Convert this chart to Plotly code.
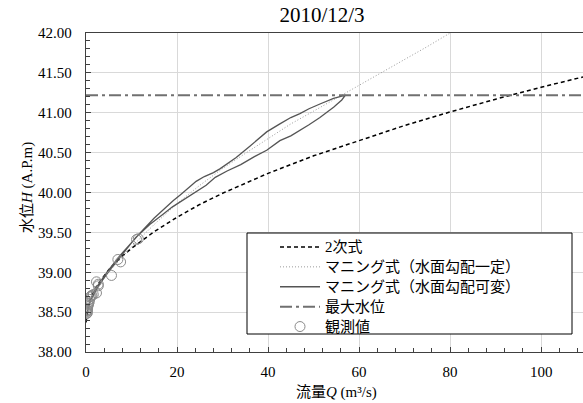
import plotly.graph_objects as go

# 2次式 (quadratic rating curve)
quad_Q = [0, 0.5, 1, 2, 3, 5, 7.5, 10, 15, 20, 25, 30, 40, 50, 60, 70, 80, 90, 100, 110]
quad_H = [38.37, 38.58, 38.67, 38.79, 38.88, 39.03, 39.18, 39.30, 39.51, 39.69, 39.85, 39.99,
          40.24, 40.46, 40.65, 40.84, 41.01, 41.17, 41.32, 41.46]

# マニング式（水面勾配一定）
mc_Q = [0.2, 1, 2, 3, 5, 7.5, 10, 15, 20, 25, 30, 35, 40, 45, 50, 55, 60, 65, 70, 75, 80]
mc_H = [38.52, 38.66, 38.77, 38.86, 39.00, 39.16, 39.32, 39.60, 39.86, 40.09, 40.30, 40.49,
        40.68, 40.86, 41.02, 41.18, 41.34, 41.50, 41.67, 41.83, 42.00]

# マニング式（水面勾配可変） - loop: upper branch then lower branch
mv_Q = [0.3, 1, 2, 3, 5, 7.5, 10, 12, 15, 17, 19.2, 20.7, 22, 24.2, 26, 28, 29.5, 33, 36, 39.7,
        42.6, 45, 47, 49, 51.4, 53, 54.4, 55.6, 56.6,
        57.0, 56.2, 55.3, 54.4, 53, 51.4, 49, 47, 45, 42.6, 39.7, 37, 34, 31, 29, 28.4, 26.4,
        23.6, 21, 19, 17, 14, 11, 8, 5, 3, 1, 0.3]
mv_H = [38.50, 38.66, 38.78, 38.87, 39.03, 39.21, 39.37, 39.50, 39.68, 39.79, 39.90, 39.97, 40.03,
        40.14, 40.20, 40.25, 40.30, 40.44, 40.58, 40.76, 40.86, 40.94, 40.99, 41.05, 41.11, 41.15,
        41.18, 41.20, 41.22,
        41.22, 41.16, 41.11, 41.07, 41.01, 40.94, 40.85, 40.78, 40.71, 40.65, 40.53, 40.45, 40.35,
        40.27, 40.21, 40.19, 40.09, 39.99, 39.90, 39.82, 39.73, 39.60, 39.44, 39.23, 39.01, 38.85,
        38.65, 38.50]

# 最大水位
max_Q = [0, 110]
max_H = [41.22, 41.22]

# 観測値
obs_Q = [0.10, 0.15, 0.20, 0.25, 0.30, 0.35, 0.40, 0.30, 0.50, 0.60, 0.70, 0.80, 0.90, 1.1, 1.3,
         1.6, 2.3, 2.7, 2.3, 2.7, 5.6, 7.0, 7.6, 11.1, 11.5]
obs_H = [38.48, 38.50, 38.51, 38.52, 38.53, 38.55, 38.57, 38.49, 38.59, 38.61, 38.63, 38.66, 38.69,
         38.70, 38.71, 38.72, 38.88, 38.83, 38.74, 38.85, 38.96, 39.16, 39.13, 39.41, 39.42]

names = ["2次式", "マニング式（水面勾配一定）", "マニング式（水面勾配可変）", "最大水位", "観測値"]

SERIF = "Liberation Serif, Times New Roman, Noto Sans CJK JP, serif"


def big(s):
    return '<span style="font-size:15px">' + s + "</span>"


fig = go.Figure()
fig.add_trace(go.Scatter(x=quad_Q, y=quad_H, mode="lines", name=big(names[0]),
                         line=dict(color="#000000", width=1.5, dash="4px,3px")))
fig.add_trace(go.Scatter(x=mc_Q, y=mc_H, mode="lines", name=big(names[1]),
                         line=dict(color="#9a9a9a", width=1, dash="1px,2px")))
fig.add_trace(go.Scatter(x=mv_Q, y=mv_H, mode="lines", name=big(names[2]),
                         line=dict(color="#555555", width=1.3)))
fig.add_trace(go.Scatter(x=max_Q, y=max_H, mode="lines", name=big(names[3]),
                         line=dict(color="#707070", width=2, dash="12px,4px,3px,4px")))
fig.add_trace(go.Scatter(x=obs_Q, y=obs_H, mode="markers", name=big(names[4]),
                         marker=dict(symbol="circle-open", size=10, color="#8a8a8a",
                                     line=dict(width=1, color="#8a8a8a"))))

# legend box
fig.add_shape(type="rect", xref="paper", yref="paper",
              x0=(247 - 86) / 497, x1=(572 - 86) / 497,
              y0=(352 - 334) / 319, y1=(352 - 233) / 319,
              fillcolor="white", line=dict(color="#000000", width=1), layer="above")

fig.update_layout(
    width=583, height=403,
    margin=dict(l=86, r=0, t=33, b=51),
    paper_bgcolor="white", plot_bgcolor="white",
    font=dict(family=SERIF, size=15, color="#000000"),
    title=dict(text="2010/12/3", x=322 / 583, xanchor="center", y=1 - 15 / 403,
               yanchor="middle", font=dict(family=SERIF, size=21, color="#000000")),
    showlegend=True,
    legend=dict(x=(275 - 86) / 497, y=(352 - 232) / 319, xanchor="left", yanchor="top",
                bgcolor="rgba(0,0,0,0)", borderwidth=0, tracegroupgap=0, itemwidth=40,
                font=dict(family=SERIF, size=13, color="#000000")),
    xaxis=dict(range=[0, 109.2], dtick=20, tick0=0, showgrid=True, gridcolor="#d9d9d9",
               gridwidth=1, zeroline=False, showline=True, linecolor="#404040", linewidth=1.3,
               mirror=True, ticks="inside", ticklen=5, tickcolor="#404040",
               ticklabelstandoff=6,
               minor=dict(dtick=4, ticks="inside", ticklen=4, tickcolor="#404040", showgrid=False),
               tickfont=dict(family=SERIF, size=15, color="#000000")),
    yaxis=dict(range=[38, 42], dtick=0.5, tick0=38, tickformat=".2f", showgrid=True,
               gridcolor="#d9d9d9", gridwidth=1, zeroline=False, showline=True,
               linecolor="#404040", linewidth=1.3, mirror=False, ticks="inside", ticklen=5,
               tickcolor="#404040", ticklabelstandoff=10,
               minor=dict(dtick=0.1, ticks="inside", ticklen=4, tickcolor="#404040", showgrid=False),
               tickfont=dict(family=SERIF, size=15, color="#000000")),
    annotations=[
        dict(text="水位<i>H</i> (A.P.m)", xref="paper", yref="paper",
             x=(27 - 86) / 497, y=(352 - 188) / 319, xanchor="center", yanchor="middle",
             textangle=-90, showarrow=False, font=dict(family=SERIF, size=15, color="#000000")),
        dict(text="流量<i>Q</i> (m³/s)", xref="paper", yref="paper",
             x=(336 - 86) / 497, y=-(392 - 352) / 319, xanchor="center", yanchor="middle",
             showarrow=False, font=dict(family=SERIF, size=15, color="#000000")),
    ],
)

fig.write_html("out.html", post_script="document.body.style.margin='0';",
               config={"displayModeBar": False})
